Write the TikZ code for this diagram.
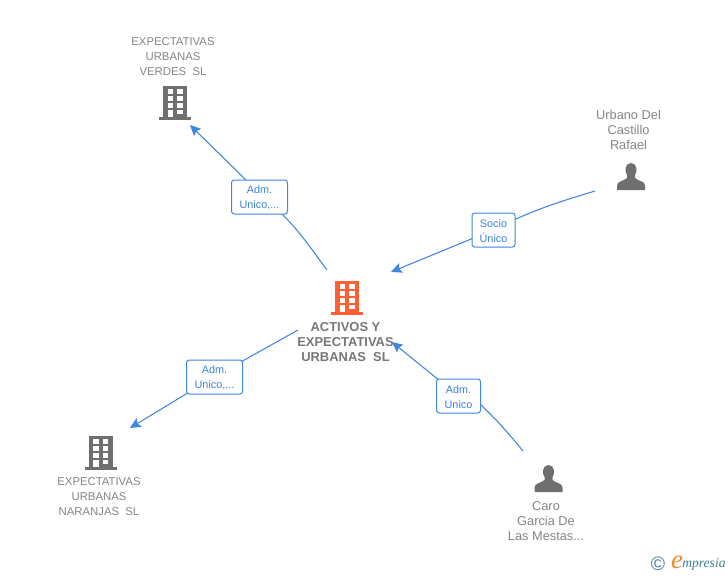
\documentclass[tikz,border=0pt]{standalone}
\usepackage{fontspec}
\setmainfont{Liberation Sans}
\newfontfamily\logofont{Liberation Serif}
\usetikzlibrary{arrows.meta}
\definecolor{linkblue}{HTML}{3F86E0}
\definecolor{labelblue}{HTML}{3B82DC}
\definecolor{iconv}{HTML}{6F6F6F}
\definecolor{txtgray}{HTML}{858585}
\definecolor{hubgray}{HTML}{777777}
\definecolor{hot}{HTML}{FF5F33}
\definecolor{logoteal}{HTML}{3F7F95}
\definecolor{logoor}{HTML}{F08A1E}
\newcommand{\tagstrut}{\rule{0pt}{7.4pt}}
\tikzset{
  x=0.75pt,y=-0.75pt,
  link/.style={draw=linkblue,line width=0.8pt},
  linkend/.style={link,-{Stealth[length=8pt,width=7.5pt,inset=1.5pt]}},
  tagbox/.style={draw=linkblue,fill=white,rounded corners=2pt,line width=0.75pt,text=labelblue,
    font=\fontsize{8.1}{11.2}\selectfont,align=center,inner sep=0pt},
  entity/.style={text=txtgray,font=\fontsize{8.5}{11.2}\selectfont,align=center,inner sep=0pt},
  personname/.style={entity,font=\fontsize{9.6}{11.2}\selectfont},
  hubname/.style={text=hubgray,font=\fontsize{9.7}{11.2}\selectfont\bfseries,align=center,inner sep=0pt},
  pics/tower/.style={code={
    \fill[#1] (-12,-17) rectangle (12,15);
    \fill[#1] (-16,14) rectangle (16,16.5);
    \foreach \cx in {-7.5,2.3}{\foreach \cy in {-13.7,-7,-0.3}{\fill[white] (\cx,\cy) rectangle ++(5.6,5);}}
    \fill[white] (-7.5,6.5) rectangle (-1.9,14);
    \fill[white] (2.3,6.5) rectangle (7.9,11);
  }},
  pics/bust/.style={code={
    \fill[iconv] (-14,13) -- (-14,8.5) .. controls (-14,4) and (-7,4) .. (-4,1)
      -- (-4,-2) .. controls (-6.5,-5) and (-6.5,-14) .. (0,-14)
      .. controls (6.5,-14) and (6.5,-5) .. (4,-2) -- (4,1)
      .. controls (7,4) and (14,4) .. (14,8.5) -- (14,13) -- cycle;
  }},
}
\begin{document}
\begin{tikzpicture}
\useasboundingbox (0,0) rectangle (728,575);
% icons
\pic at (175,103) {tower=iconv};
\pic at (347,298) {tower=hot};
\pic at (100.5,453) {tower=iconv};
\pic at (631,177) {bust};
\pic at (548.5,479) {bust};
% names
\node[entity] (verdes) at (173,57) {EXPECTATIVAS\\URBANAS\\VERDES\ \ SL};
\node[personname] (urbano) at (628.5,129.5) {Urbano Del\\Castillo\\Rafael};
\node[hubname] (hub) at (345.5,342) {ACTIVOS Y\\EXPECTATIVAS\\URBANAS\ \ SL};
\node[entity] (naranjas) at (99,497) {EXPECTATIVAS\\URBANAS\\NARANJAS\ \ SL};
\node[personname] (caro) at (546,521) {Caro\\Garcia De\\Las Mestas...};
% connector end points
\coordinate (hubA) at (327,270);
\coordinate (verdesEnd) at (190,125);
\coordinate (urbanoStart) at (595,191);
\coordinate (hubB) at (391,272);
\coordinate (caroStart) at (523,451);
\coordinate (hubC) at (392,342);
\coordinate (hubD) at (298,330);
\coordinate (naranjasEnd) at (130,428);
\coordinate (t1c) at (259,197);
\coordinate (t2c) at (493,230);
\coordinate (t3c) at (458.5,396);
\coordinate (t4c) at (214,377);
% connectors
\draw[linkend] (hubA) .. controls (310,247) and (300,232) .. (283,215) -- (t1c) -- (246,180) -- (verdesEnd);
\draw[linkend] (urbanoStart) .. controls (565,200) and (540,208) .. (516,219) -- (t2c) -- (hubB);
\draw[linkend] (caroStart) .. controls (510,435) and (497,420) .. (481,405) -- (t3c) -- (hubC);
\draw[linkend] (hubD) -- (t4c) -- (naranjasEnd);
% label boxes on top
\node[tagbox,minimum width=42pt,minimum height=25.5pt] (t1) at (259.5,197) {\tagstrut Adm.\\Unico,...};
\node[tagbox,minimum width=32.25pt,minimum height=25.5pt] (t2) at (493.5,230) {\tagstrut Socio\\Único};
\node[tagbox,minimum width=33pt,minimum height=25.5pt] (t3) at (458.5,396) {\tagstrut Adm.\\Unico};
\node[tagbox,minimum width=42pt,minimum height=25.5pt] (t4) at (214.5,377) {\tagstrut Adm.\\Unico,...};
% logo
\node[inner sep=0pt,text=logoteal,font=\fontsize{14.5}{15}\selectfont] (copy) at (658,564) {©};
\node[inner sep=0pt,text=logoor,font=\logofont\itshape\fontsize{20}{20}\selectfont] (loge) at (677,562) {e};
\node[inner sep=0pt,anchor=west,text=logoteal,font=\logofont\itshape\fontsize{10.2}{10}\selectfont] (logt) at (682,564.5) {mpresia};
\end{tikzpicture}
\end{document}
